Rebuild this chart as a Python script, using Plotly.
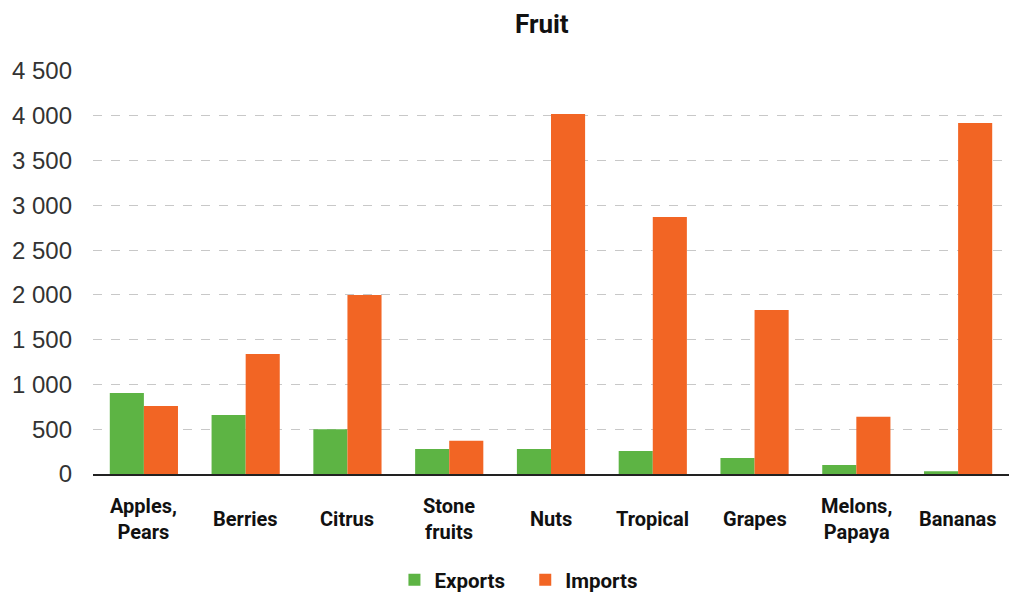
import plotly.graph_objects as go

categories = ["Apples,<br>Pears", "Berries", "Citrus", "Stone<br>fruits", "Nuts",
              "Tropical", "Grapes", "Melons,<br>Papaya", "Bananas"]
exports = [905, 660, 500, 280, 280, 257, 180, 100, 30]
imports = [760, 1340, 2000, 370, 4020, 2870, 1830, 640, 3920]
y_ticks = [0, 500, 1000, 1500, 2000, 2500, 3000, 3500, 4000, 4500]

fig = go.Figure()
fig.add_trace(go.Bar(x=categories, y=exports, name="<b>Exports</b>\u00a0\u00a0\u00a0",
                     marker_color="#5DB444", marker_line_width=0))
fig.add_trace(go.Bar(x=categories, y=imports, name="<b>Imports</b>",
                     marker_color="#F26524", marker_line_width=0))

# category labels, vertically centred under the axis
for c in categories:
    fig.add_annotation(x=c, xref="x", y=-0.112, yref="paper", text="<b>" + c + "</b>",
                       showarrow=False, xanchor="center", yanchor="middle",
                       font=dict(family="Roboto", size=20, color="#111"))

fig.update_layout(
    width=1009, height=593,
    margin=dict(l=93, r=0, t=71, b=119, autoexpand=False),
    paper_bgcolor="white", plot_bgcolor="white",
    separators=". ",
    title=dict(text="<b>Fruit</b>", x=0.537, xanchor="center", y=0.96, yanchor="middle",
               font=dict(family="Roboto", size=26, color="#111")),
    barmode="group", bargap=0.33, bargroupgap=0,
    legend=dict(orientation="h", x=0.465, xanchor="center", y=-0.263, yanchor="middle",
                font=dict(family="Roboto", size=20.5, color="#111"),
                traceorder="normal"),
    xaxis=dict(showticklabels=False,
               showgrid=False, showline=True, linecolor="#222", linewidth=2,
               ticks="", ticklen=0),
    yaxis=dict(range=[0, 4500], tickvals=y_ticks, tickformat=",",
               tickfont=dict(family="Liberation Sans", size=24, color="#333"),
               showgrid=True, gridcolor="#c8c8c8", griddash="dash", gridwidth=1,
               zeroline=False, showline=False, ticks="", ticklabelstandoff=20),
)
fig.write_html("out.html")
